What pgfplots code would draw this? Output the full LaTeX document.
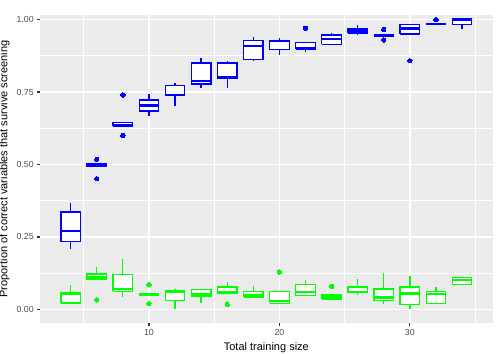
\documentclass[border=0pt]{standalone}
\usepackage{pgfplots}
\pgfplotsset{compat=1.18}
\usepackage{fontspec}
\setmainfont{Liberation Sans}
\definecolor{panelbg}{HTML}{EBEBEB}
\definecolor{ticklab}{HTML}{4D4D4D}
\definecolor{tickcol}{HTML}{333333}
\definecolor{bblue}{HTML}{0000FF}
\definecolor{bgreen}{HTML}{00FF00}
% #1 colour, #2 x, #3 lower whisker, #4 lower quartile, #5 median, #6 upper quartile, #7 upper whisker
\newcommand{\bx}[7]{%
  \pgfmathsetmacro\boxl{#2-0.75}\pgfmathsetmacro\boxr{#2+0.75}%
  \addplot[draw=#1, line width=1.3pt, forget plot] coordinates {(#2,#3) (#2,#4)};
  \addplot[draw=#1, line width=1.3pt, forget plot] coordinates {(#2,#6) (#2,#7)};
  \addplot[draw=#1, fill=white, line width=1.3pt, line join=miter, forget plot] coordinates {(\boxl,#4) (\boxr,#4) (\boxr,#6) (\boxl,#6) (\boxl,#4)};
  \addplot[draw=#1, line width=2.4pt, forget plot] coordinates {(\boxl,#5) (\boxr,#5)};
}
\newcommand{\outl}[2]{\addplot[only marks, mark=*, mark size=2.2pt, mark options={draw=#1, fill=#1, line width=0pt}, forget plot] coordinates {#2};}
\begin{document}
\begin{tikzpicture}
\begin{axis}[
  scale only axis,
  width=452.7pt, height=308pt,
  xmin=1.65, xmax=36.35,
  ymin=-0.047, ymax=1.016,
  axis background/.style={fill=panelbg},
  axis line style={draw=none},
  xtick={10,20,30},
  minor xtick={5,15,25,35},
  ytick={0,0.25,0.5,0.75,1},
  minor ytick={0.125,0.375,0.625,0.875},
  grid=both,
  major grid style={white, line width=1.35pt},
  minor grid style={white, line width=0.7pt},
  tick align=outside,
  xtick pos=bottom, ytick pos=left,
  major tick length=2.75pt,
  minor tick length=0pt,
  tick style={tickcol, line width=1.2pt},
  /pgf/number format/assume math mode=true,
  yticklabel style={/pgf/number format/fixed, /pgf/number format/fixed zerofill, /pgf/number format/precision=2},
  ticklabel style={font=\fontsize{8.8}{10}\selectfont, text=ticklab},
  label style={font=\fontsize{11}{13}\selectfont},
  xlabel={Total training size},
  ylabel={Proportion of correct variables that survive screening},
]
\bx{bblue}{4}{0.209}{0.234}{0.271}{0.336}{0.368}
\bx{bblue}{6}{0.492}{0.492}{0.498}{0.503}{0.503}
\bx{bblue}{8}{0.633}{0.633}{0.634}{0.645}{0.645}
\bx{bblue}{10}{0.668}{0.685}{0.703}{0.723}{0.744}
\bx{bblue}{12}{0.701}{0.737}{0.740}{0.773}{0.782}
\bx{bblue}{14}{0.764}{0.778}{0.789}{0.850}{0.868}
\bx{bblue}{16}{0.763}{0.798}{0.801}{0.850}{0.856}
\bx{bblue}{18}{0.856}{0.862}{0.908}{0.929}{0.939}
\bx{bblue}{20}{0.878}{0.896}{0.926}{0.929}{0.937}
\bx{bblue}{22}{0.890}{0.898}{0.900}{0.922}{0.922}
\bx{bblue}{24}{0.915}{0.915}{0.933}{0.947}{0.954}
\bx{bblue}{26}{0.946}{0.954}{0.961}{0.968}{0.983}
\bx{bblue}{28}{0.945}{0.945}{0.945}{0.945}{0.945}
\bx{bblue}{30}{0.950}{0.950}{0.969}{0.984}{0.984}
\bx{bblue}{32}{0.984}{0.984}{0.984}{0.984}{0.984}
\bx{bblue}{34}{0.968}{0.983}{1.0}{1.0}{1.0}
\outl{bblue}{(6,0.518) (6,0.451) (8,0.740) (8,0.600) (22,0.970) (28,0.966) (28,0.930) (30,0.858) (32,1.0)}
\bx{bgreen}{4}{0.022}{0.022}{0.055}{0.058}{0.083}
\bx{bgreen}{6}{0.103}{0.103}{0.110}{0.122}{0.146}
\bx{bgreen}{8}{0.043}{0.062}{0.071}{0.121}{0.175}
\bx{bgreen}{10}{0.051}{0.051}{0.051}{0.051}{0.051}
\bx{bgreen}{12}{0.001}{0.031}{0.062}{0.064}{0.070}
\bx{bgreen}{14}{0.022}{0.044}{0.052}{0.069}{0.072}
\bx{bgreen}{16}{0.054}{0.054}{0.059}{0.077}{0.094}
\bx{bgreen}{18}{0.043}{0.043}{0.050}{0.061}{0.079}
\bx{bgreen}{20}{0.017}{0.021}{0.028}{0.061}{0.061}
\bx{bgreen}{22}{0.047}{0.047}{0.060}{0.086}{0.102}
\bx{bgreen}{24}{0.036}{0.036}{0.045}{0.052}{0.052}
\bx{bgreen}{26}{0.051}{0.058}{0.060}{0.077}{0.106}
\bx{bgreen}{28}{0.020}{0.030}{0.041}{0.070}{0.127}
\bx{bgreen}{30}{0.001}{0.016}{0.055}{0.077}{0.116}
\bx{bgreen}{32}{0.021}{0.021}{0.053}{0.062}{0.076}
\bx{bgreen}{34}{0.085}{0.085}{0.101}{0.109}{0.109}
\outl{bgreen}{(6,0.033) (10,0.085) (10,0.020) (16,0.018) (20,0.129) (24,0.079)}
\coordinate (ll) at (rel axis cs:0,0);
\end{axis}
\pgfresetboundingbox
\useasboundingbox (ll) ++(-40pt,-32pt) rectangle ++(498pt,355pt);
\end{tikzpicture}
\end{document}
